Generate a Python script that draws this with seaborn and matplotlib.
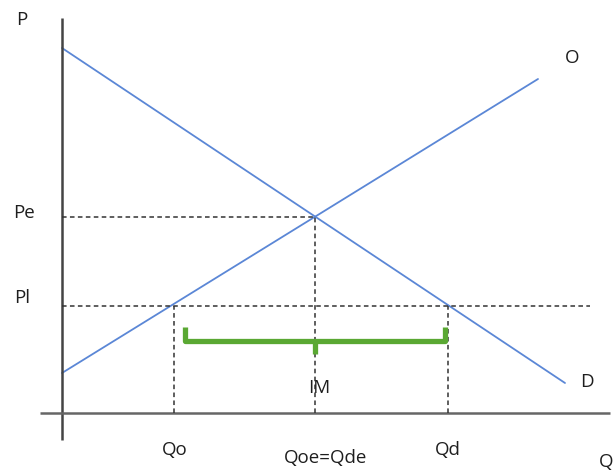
import matplotlib.pyplot as plt
import seaborn as sns
import pandas as pd

# curve end points (quantity, price)
demand_q = [0, 503]
demand_p = [365, 30]
supply_q = [0, 476]
supply_p = [40, 334]

# key levels
q_eq, p_eq = 253, 196
p_low = 107
q_o, q_d = 112, 386

# import bracket
bracket_q = [123, 383]
bracket_top, bracket_bot, bracket_tip = 86, 72, 59

sns.set_style("white")
plt.rcParams['font.family'] = ['Open Sans', 'DejaVu Sans']

fig = plt.figure(figsize=(6.15, 4.75), dpi=100)
ax = fig.add_axes([0, 0, 1, 1])
ax.set_xlim(-62, 553)
ax.set_ylim(-62, 413)
ax.axis('off')

curves = pd.concat([
    pd.DataFrame({'Q': demand_q, 'P': demand_p, 'curve': 'D'}),
    pd.DataFrame({'Q': supply_q, 'P': supply_p, 'curve': 'O'}),
])
sns.lineplot(data=curves, x='Q', y='P', units='curve', estimator=None,
             color='#5b87d6', lw=1.3, ax=ax, legend=False)

# axes
ax.plot([0, 0], [-27, 395], color='#444444', lw=1.8, solid_capstyle='butt')
ax.plot([-22, 548], [0, 0], color='#666666', lw=1.8, solid_capstyle='butt')

# dashed guides
dash = dict(color='#333333', lw=1.1, ls=(0, (3, 2.2)))
ax.plot([0, q_eq], [p_eq, p_eq], **dash)
ax.plot([0, 528], [p_low, p_low], **dash)
ax.plot([q_eq, q_eq], [0, p_eq], **dash)
ax.plot([q_o, q_o], [0, p_low], **dash)
ax.plot([q_d, q_d], [0, p_low], **dash)

# green bracket
green = '#5aa833'
ax.plot([bracket_q[0], bracket_q[0], bracket_q[1], bracket_q[1]],
        [bracket_top, bracket_bot, bracket_bot, bracket_top],
        color=green, lw=3.8, solid_joinstyle='round', solid_capstyle='butt')
ax.plot([q_eq, q_eq], [bracket_bot, bracket_tip], color=green, lw=3.8,
        solid_capstyle='butt')

fs = 13.5
col = '#1e1e1e'
ax.text(-40, 393, 'P', fontsize=fs, color=col, ha='center', va='center')
ax.text(-38, 200, 'Pe', fontsize=fs, color=col, ha='center', va='center')
ax.text(-40, 115, 'Pl', fontsize=fs, color=col, ha='center', va='center')
ax.text(510, 355, 'O', fontsize=fs, color=col, ha='center', va='center')
ax.text(525, 31, 'D', fontsize=fs, color=col, ha='center', va='center')
ax.text(551, -49, 'Q', fontsize=fs, color=col, ha='right', va='center')
ax.text(q_o + 1, -37, 'Qo', fontsize=fs, color=col, ha='center', va='center')
ax.text(q_eq + 11, -45, 'Qoe=Qde', fontsize=fs, color=col, ha='center', va='center')
ax.text(q_d, -37, 'Qd', fontsize=fs, color=col, ha='center', va='center')
ax.text(q_eq + 4, 25, 'IM', fontsize=fs, color=col, ha='center', va='center')

fig.savefig('out.png', dpi=100)
